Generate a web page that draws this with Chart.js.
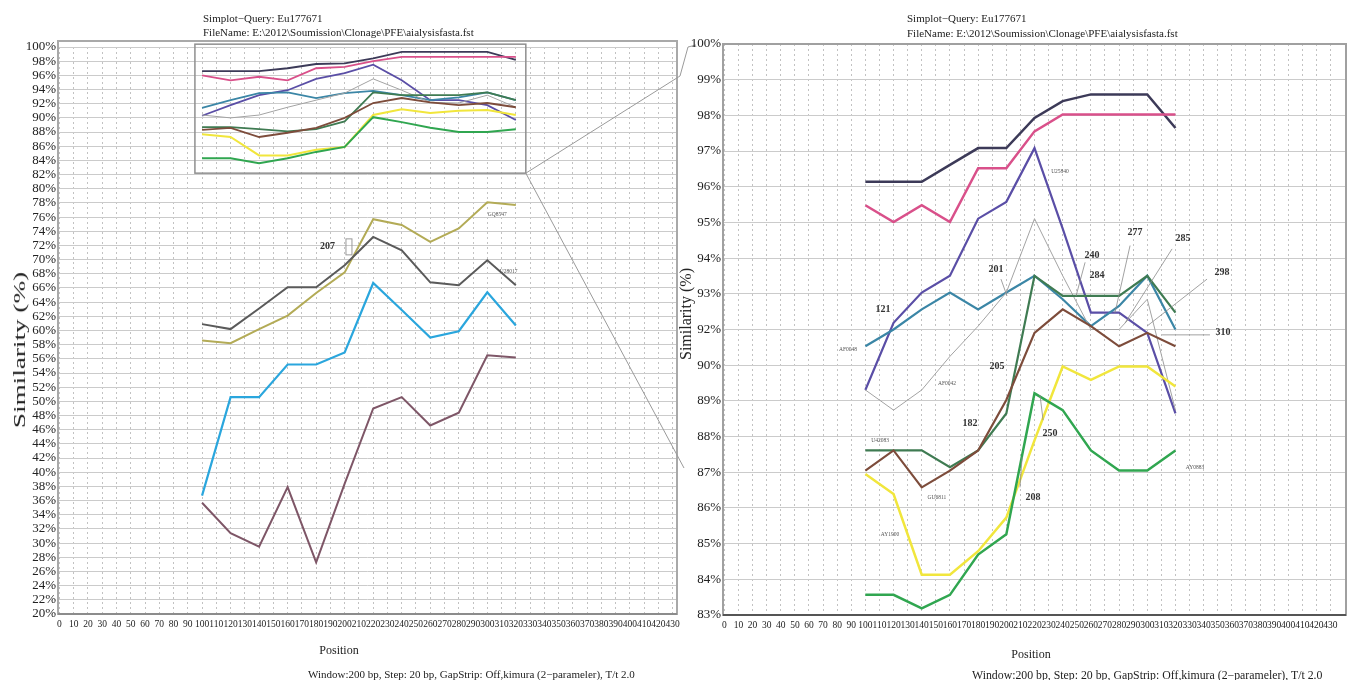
<!DOCTYPE html>
<html>
<head>
<meta charset="utf-8">
<script src="https://cdn.jsdelivr.net/npm/chart.js@4.4.1/dist/chart.umd.min.js"></script>
<style>
  html, body { margin: 0; padding: 0; background: #fff; width: 1355px; height: 680px; overflow: hidden; }
  body { position: relative; font-family: 'Liberation Serif', 'DejaVu Serif', serif; color: #222; }
  #wrapL { position: absolute; left: 0; top: 0; width: 700px; height: 680px; }
  #wrapR { position: absolute; left: 680px; top: 0; width: 675px; height: 680px; }
  .t { position: absolute; white-space: nowrap; font-size: 11px; line-height: 13px; z-index: 5; }
  .c { transform: translateX(-50%); }
  .yt { position: absolute; white-space: nowrap; transform: translate(-50%, -50%) rotate(-90deg); z-index: 5; }
  .ytw { transform: translate(-50%, -50%) rotate(-90deg) scale(1.6, 1); }
</style>
</head>
<body>
<div id="wrapL"><canvas id="left" width="700" height="680"></canvas></div>
<div id="wrapR"><canvas id="right" width="675" height="680"></canvas></div>

<div class="t" style="left:203px;top:12px">Simplot−Query: Eu177671</div>
<div class="t" style="left:203px;top:26px">FileName: E:\2012\Soumission\Clonage\PFE\aialysisfasta.fst</div>
<div class="t" style="left:907px;top:12px">Simplot−Query: Eu177671</div>
<div class="t" style="left:907px;top:27px">FileName: E:\2012\Soumission\Clonage\PFE\aialysisfasta.fst</div>
<div class="yt ytw" style="left:20px;top:350px;font-size:17px">Similarity (%)</div>
<div class="yt" style="left:686px;top:314px;font-size:16px">Similarity (%)</div>
<div class="t c" style="left:339px;top:644px;font-size:12px">Position</div>
<div class="t c" style="left:1031px;top:648px;font-size:12px">Position</div>
<div class="t" style="left:308px;top:668px">Window:200 bp, Step: 20 bp, GapStrip: Off,kimura (2−parameler), T/t 2.0</div>
<div class="t" style="left:972px;top:669px;font-size:11.8px">Window:200 bp, Step: 20 bp, GapStrip: Off,kimura (2−parameler), T/t 2.0</div>

<script>
// Window midpoints (bp) shared by every similarity curve
const positions = [100, 120, 140, 160, 180, 200, 220, 240, 260, 280, 300, 320];

// Tick labels
const xTicks = Array.from({ length: 44 }, (_, i) => i * 10);           // 0 … 430
const yTicksFull = Array.from({ length: 41 }, (_, i) => 20 + i * 2);   // 20 … 100
const yTickLabelsZoom = ['83%', '84%', '85%', '86%', '87%', '88%', '89%', '90%',
                         '92%', '93%', '94%', '95%', '96%', '97%', '98%', '99%', '100%'];

// Full view (20–100 %): upper cluster
const fullDark   = [96.6, 96.6, 96.6, 97.0, 97.6, 97.7, 98.4, 99.3, 99.3, 99.3, 99.3, 98.2];
const fullPink   = [96.0, 95.3, 95.8, 95.3, 97.0, 97.2, 98.0, 98.6, 98.6, 98.6, 98.6, 98.6];
const fullPurple = [90.3, 91.8, 93.2, 93.9, 95.5, 96.3, 97.5, 95.3, 92.5, 92.5, 91.8, 89.7];
const fullTeal   = [91.4, 92.5, 93.5, 93.6, 92.8, 93.5, 93.8, 93.2, 92.5, 92.9, 93.6, 92.5];
const fullGrey   = [90.4, 90.0, 90.4, 91.5, 92.5, 93.5, 95.5, 93.9, 92.2, 92.1, 93.2, 91.5];
const fullForest = [88.7, 88.7, 88.4, 88.1, 88.4, 89.5, 93.6, 93.2, 93.2, 93.2, 93.6, 92.5];
const fullBrown  = [88.3, 88.6, 87.3, 87.9, 88.6, 90.0, 92.1, 92.8, 92.2, 91.8, 92.1, 91.5];
const fullYellow = [87.7, 87.3, 84.7, 84.7, 85.5, 85.9, 90.4, 91.2, 90.7, 91.0, 91.1, 90.4];
const fullGreen  = [84.3, 84.3, 83.6, 84.3, 85.2, 85.9, 90.1, 89.4, 88.6, 88.0, 88.0, 88.4];
// Full view: lower curves
const fullOlive  = [58.6, 58.2, 60.2, 62.1, 65.3, 68.2, 75.7, 74.9, 72.5, 74.4, 78.1, 77.7];
const fullSlate  = [60.9, 60.2, 63.1, 66.1, 66.1, 69.2, 73.2, 71.3, 66.8, 66.4, 69.9, 66.4];
const fullSky    = [36.7, 50.6, 50.6, 55.2, 55.2, 56.9, 66.7, 62.9, 59.0, 59.9, 65.4, 60.7];
const fullMauve  = [35.7, 31.4, 29.5, 37.9, 27.3, 38.4, 49.0, 50.6, 46.6, 48.4, 56.5, 56.2];

// Zoomed view (83–100 %)
const zoomDark   = [95.9, 95.9, 95.9, 96.4, 96.9, 96.9, 97.8, 98.3, 98.5, 98.5, 98.5, 97.5];
const zoomPink   = [95.2, 94.7, 95.2, 94.7, 96.3, 96.3, 97.4, 97.9, 97.9, 97.9, 97.9, 97.9];
const zoomPurple = [89.7, 91.7, 92.6, 93.1, 94.8, 95.3, 96.9, 94.5, 92.0, 92.0, 91.4, 89.0];
const zoomTeal   = [91.0, 91.5, 92.1, 92.6, 92.1, 92.6, 93.1, 92.4, 91.6, 92.2, 93.1, 91.5];
const zoomGrey   = [89.7, 89.1, 89.7, 90.7, 91.6, 92.6, 94.8, 93.1, 91.5, 91.5, 92.4, 89.1];
const zoomForest = [87.9, 87.9, 87.9, 87.4, 87.9, 89.0, 93.1, 92.5, 92.5, 92.5, 93.1, 92.0];
const zoomBrown  = [87.3, 87.9, 86.8, 87.3, 87.9, 89.4, 91.4, 92.1, 91.6, 91.0, 91.4, 91.0];
const zoomYellow = [87.2, 86.6, 84.2, 84.2, 84.9, 85.9, 88.2, 90.4, 90.0, 90.4, 90.4, 89.8];
const zoomGreen  = [83.6, 83.6, 83.2, 83.6, 84.8, 85.4, 89.6, 89.1, 87.9, 87.3, 87.3, 87.9];

// Position callouts and sequence names
const fullNotes = [
  { text: '207', x: 188, y: 71.8, bold: true },
  { text: 'GQ8547', x: 307, y: 76.3 },
  { text: 'U28017', x: 315, y: 68.3 }
];
const zoomNotes = [
  { text: '121', x: 112.5, y: 92.1, bold: true },
  { text: '201', x: 192.7, y: 93.3, bold: true },
  { text: '240', x: 260.8, y: 93.7, bold: true },
  { text: '284', x: 264.4, y: 93.1, bold: true },
  { text: '277', x: 291.3, y: 94.4, bold: true },
  { text: '285', x: 325.4, y: 94.2, bold: true },
  { text: '298', x: 353.0, y: 93.2, bold: true },
  { text: '310', x: 353.7, y: 91.4, bold: true },
  { text: '205', x: 193.4, y: 90.4, bold: true },
  { text: '182', x: 174.2, y: 88.7, bold: true },
  { text: '250', x: 231.0, y: 88.4, bold: true },
  { text: '208', x: 219.0, y: 86.5, bold: true },
  { text: 'U25840', x: 238.1, y: 96.2 },
  { text: 'AF0048', x: 87.7, y: 90.9 },
  { text: 'AF0042', x: 157.9, y: 89.9 },
  { text: 'U42083', x: 110.4, y: 88.2 },
  { text: 'GU6811', x: 150.8, y: 86.5 },
  { text: 'AY1900', x: 117.5, y: 85.4 },
  { text: 'AY0883', x: 333.9, y: 87.4 }
];
// Leader lines [x1, y1, x2, y2] in data units
const zoomLeaders = [
  [287.8, 94.0, 277.1, 92.0],
  [317.6, 93.9, 284.3, 91.7],
  [342.4, 93.0, 299.8, 91.6],
  [310.5, 91.34, 344.5, 91.34],
  [255.9, 93.5, 249.5, 92.5],
  [196.2, 93.0, 200.5, 92.5],
  [226.1, 88.8, 223.9, 89.55],
  [209.7, 86.8, 211.2, 87.7]
];

const C = {
  dark: '#3c3a58', pink: '#d9508a', purple: '#5a4ea6', teal: '#3b86a6', grey: '#a3a3a3',
  forest: '#3f7b52', brown: '#7d4c3b', yellow: '#f1e63c', green: '#30a650',
  olive: '#b3ab56', slate: '#5a5a5a', sky: '#2aa6dd', mauve: '#7e5667'
};
const SERIF = "'Liberation Serif', 'DejaVu Serif', serif";

function series(values, color, width) {
  return {
    data: values.map((v, i) => ({ x: positions[i], y: v })),
    borderColor: color, backgroundColor: color, borderWidth: width,
    pointRadius: 0, tension: 0, fill: false
  };
}

function frameAndNotes(opts) {
  return {
    id: 'frameAndNotes',
    afterDatasetsDraw(chart) {
      const { ctx, chartArea: a, scales: { x, y } } = chart;
      ctx.save();
      // plot frame
      ctx.strokeStyle = opts.frame; ctx.lineWidth = 2;
      ctx.strokeRect(a.left, a.top - opts.frameLift, a.right - a.left, a.bottom - a.top + opts.frameLift);
      ctx.strokeStyle = opts.base; ctx.lineWidth = 2;
      ctx.beginPath(); ctx.moveTo(a.left, a.bottom); ctx.lineTo(a.right, a.bottom); ctx.stroke();
      // leader lines
      ctx.strokeStyle = '#8a8a8a'; ctx.lineWidth = 0.8;
      (opts.leaders || []).forEach(([x1, y1, x2, y2]) => {
        ctx.beginPath();
        ctx.moveTo(x.getPixelForValue(x1), y.getPixelForValue(y1));
        ctx.lineTo(x.getPixelForValue(x2), y.getPixelForValue(y2));
        ctx.stroke();
      });
      // callouts
      ctx.textAlign = 'center'; ctx.textBaseline = 'middle';
      opts.notes.forEach(n => {
        ctx.font = n.bold ? `bold 10px ${SERIF}` : `5.5px ${SERIF}`;
        ctx.fillStyle = n.bold ? '#333' : '#555';
        ctx.fillText(n.text, x.getPixelForValue(n.x), y.getPixelForValue(n.y));
      });
      if (opts.extra) opts.extra(chart);
      ctx.restore();
    }
  };
}

const baseScales = (xMax, yOpts, yWidth, xHeight, yFont) => ({
  x: {
    type: 'linear', min: -1, max: xMax,
    afterBuildTicks: s => { s.ticks = xTicks.map(v => ({ value: v })); },
    afterFit: s => { s.height = xHeight; },
    ticks: { autoSkip: false, maxRotation: 0, minRotation: 0, padding: 5,
             font: { family: SERIF, size: 9.5 }, color: '#222' },
    grid: { color: '#c2c2c2', lineWidth: 1, drawTicks: false },
    border: { display: false, dash: [2, 3] }
  },
  y: Object.assign({
    type: 'linear',
    afterFit: s => { s.width = yWidth; },
    grid: { color: '#cbcbcb', lineWidth: 1, drawTicks: false },
    border: { display: false },
  }, yOpts, {
    ticks: Object.assign({ autoSkip: false, padding: 2, font: { family: SERIF, size: yFont }, color: '#222' }, yOpts.ticks)
  })
});

// Full-range simplot
new Chart(document.getElementById('left'), {
  type: 'line',
  data: {
    datasets: [
      series(fullMauve, C.mauve, 2), series(fullSky, C.sky, 2.2),
      series(fullSlate, C.slate, 2), series(fullOlive, C.olive, 2),
      series(fullGreen, C.green, 2), series(fullYellow, C.yellow, 2),
      series(fullBrown, C.brown, 1.8), series(fullForest, C.forest, 1.8),
      series(fullGrey, C.grey, 1), series(fullTeal, C.teal, 1.8),
      series(fullPurple, C.purple, 1.8), series(fullPink, C.pink, 1.8),
      series(fullDark, C.dark, 1.8)
    ]
  },
  options: {
    responsive: false, animation: false,
    layout: { padding: { left: 0, right: 23, top: 47, bottom: 0 } },
    plugins: { legend: { display: false }, tooltip: { enabled: false } },
    scales: baseScales(433, {
      min: 20, max: 100,
      afterBuildTicks: s => { s.ticks = yTicksFull.map(v => ({ value: v })); },
      ticks: { callback: v => v + '%' }
    }, 58, 66, 13)
  },
  plugins: [frameAndNotes({
    frame: '#a9a9a9', base: '#8c8c8c', frameLift: 6, notes: fullNotes,
    extra(chart) {
      const { ctx, scales: { x, y } } = chart;
      // zoom window over 83–100 %
      const x0 = x.getPixelForValue(95), x1 = x.getPixelForValue(327);
      const y0 = y.getPixelForValue(100.4), y1 = y.getPixelForValue(82.2);
      ctx.strokeStyle = '#8f8f8f'; ctx.lineWidth = 1.5;
      ctx.strokeRect(x0, y0, x1 - x0, y1 - y0);
      // connectors to the zoomed panel
      ctx.strokeStyle = '#9a9a9a'; ctx.lineWidth = 1;
      ctx.beginPath(); ctx.moveTo(x1, y1); ctx.lineTo(680, 76); ctx.lineTo(688, 47); ctx.lineTo(696, 45); ctx.stroke();
      ctx.beginPath(); ctx.moveTo(x1, y1); ctx.lineTo(684, 468); ctx.stroke();
      // bracket next to the 207 callout
      const bx = x.getPixelForValue(203), by = y.getPixelForValue(71.8);
      ctx.strokeStyle = '#9a9a9a'; ctx.lineWidth = 1;
      ctx.strokeRect(bx - 3, by - 8, 6, 16);
    }
  })]
});

// Zoomed simplot (83–100 %)
new Chart(document.getElementById('right'), {
  type: 'line',
  data: {
    datasets: [
      series(zoomGreen, C.green, 2.5), series(zoomYellow, C.yellow, 2.5),
      series(zoomBrown, C.brown, 2.2), series(zoomForest, C.forest, 2.2),
      series(zoomGrey, C.grey, 1), series(zoomTeal, C.teal, 2.2),
      series(zoomPurple, C.purple, 2.2), series(zoomPink, C.pink, 2.5),
      series(zoomDark, C.dark, 2.5)
    ]
  },
  options: {
    responsive: false, animation: false,
    layout: { padding: { left: 0, right: 9, top: 44, bottom: 0 } },
    plugins: { legend: { display: false }, tooltip: { enabled: false } },
    scales: baseScales(441, {
      min: 83, max: 100,
      afterBuildTicks: s => {
        s.ticks = yTickLabelsZoom.map((_, i) => ({ value: 83 + i * 17 / (yTickLabelsZoom.length - 1) }));
      },
      ticks: { callback: (v, i) => yTickLabelsZoom[i] }
    }, 43, 65, 13)
  },
  plugins: [frameAndNotes({ frame: '#a0a0a0', base: '#555', frameLift: 0, notes: zoomNotes, leaders: zoomLeaders })]
});
</script>
</body>
</html>
